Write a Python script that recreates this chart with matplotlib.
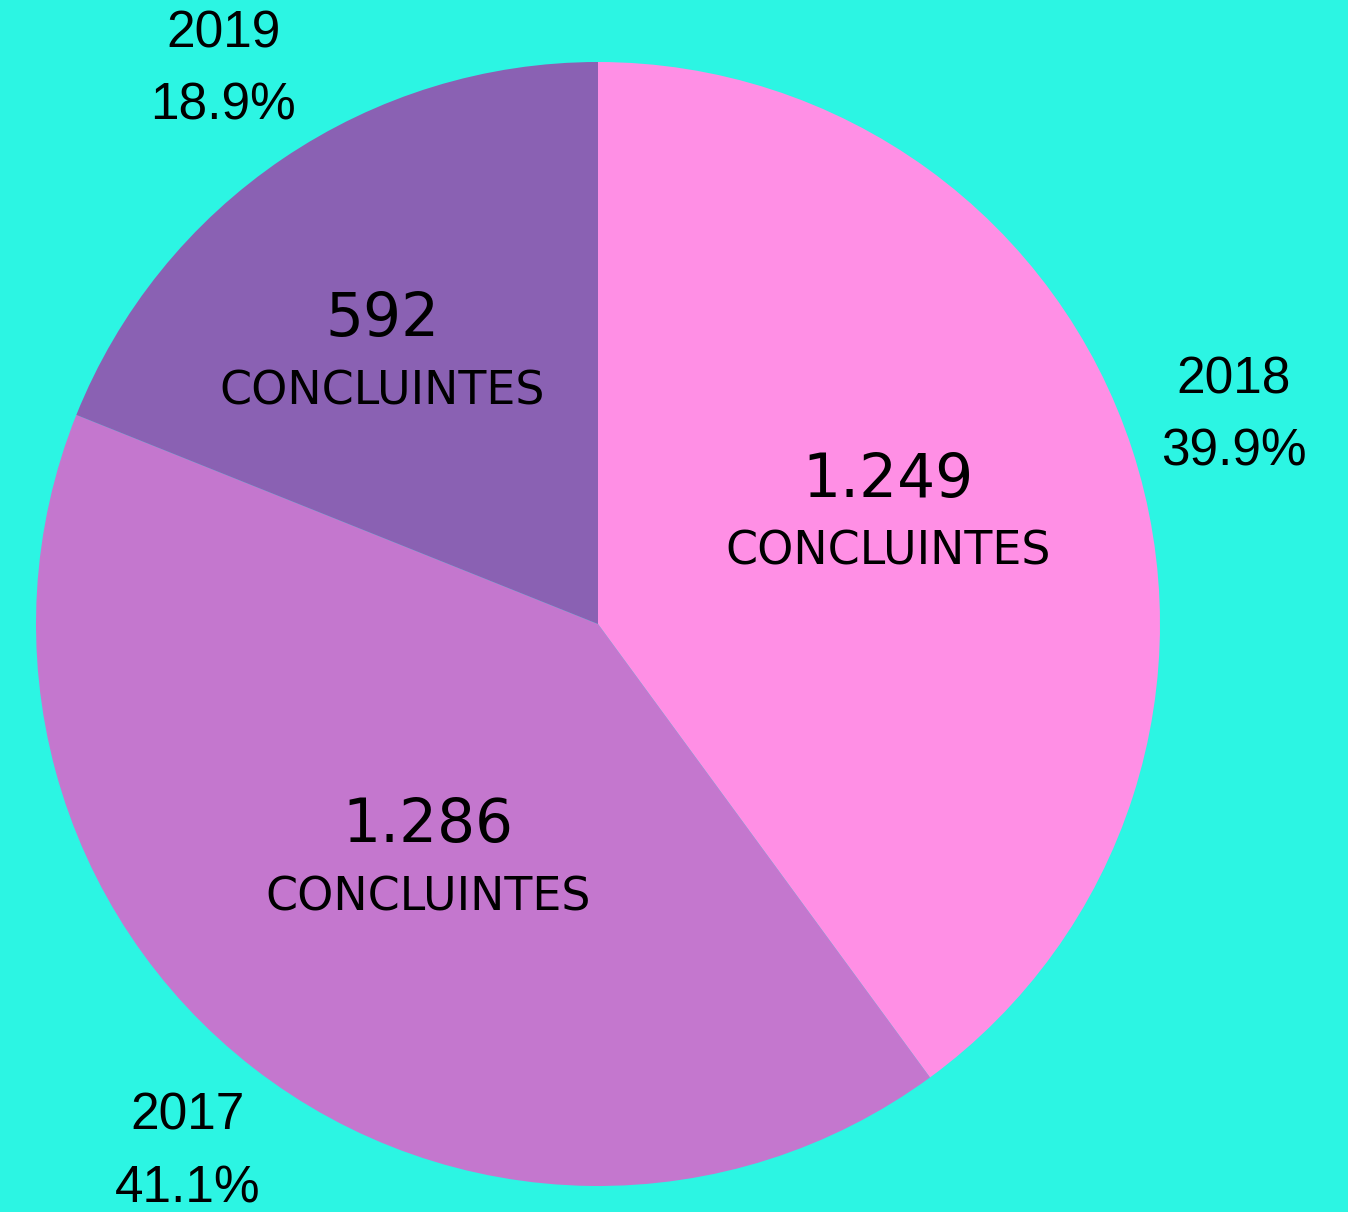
import matplotlib.pyplot as plt
import numpy as np

# data
years = ["2018", "2017", "2019"]
concluintes = [1249, 1286, 592]
concl_labels = ["1.249", "1.286", "592"]
colors = ["#FF8FE5", "#C477CE", "#8A61B3"]
bg = "#2CF5E3"

total = sum(concluintes)
outer_labels = [f"{y}\n{100 * v / total:.1f}%" for y, v in zip(years, concluintes)]

fig = plt.figure(figsize=(13.48, 12.12), dpi=100, facecolor=bg)
ax = fig.add_axes([0, 0, 1, 1])
ax.set_facecolor(bg)

# pie in pixel units so it sits where the reference has it
cx, cy, r = 598, 1212 - 624, 562
wedges, texts = ax.pie(concluintes, labels=outer_labels, colors=colors,
                       startangle=90, counterclock=False,
                       center=(cx, cy), radius=r, labeldistance=1.19,
                       wedgeprops=dict(linewidth=0),
                       textprops=dict(fontsize=37, family="Liberation Sans",
                                      color="black", linespacing=1.62))
for t in texts:
    t.set_ha("center")

# inner labels: radial distance and small angle shift for each slice
inner_dist = [0.55, 0.52, 0.613]
inner_shift = [2.3, 2.3, 4.7]
for w, d, s, num in zip(wedges, inner_dist, inner_shift, concl_labels):
    ang = np.deg2rad((w.theta1 + w.theta2) / 2 + s)
    x = cx + d * r * np.cos(ang)
    y = cy + d * r * np.sin(ang)
    ax.annotate(num, (x, y), xytext=(0, 26), textcoords="offset points",
                ha="center", va="center", fontsize=43, family="DejaVu Sans")
    ax.annotate("CONCLUINTES", (x, y), xytext=(0, -26), textcoords="offset points",
                ha="center", va="center", fontsize=33, family="DejaVu Sans")

ax.set_xlim(0, 1348)
ax.set_ylim(0, 1212)
ax.set_aspect("equal")
ax.axis("off")

fig.savefig("out.png", dpi=100, facecolor=bg)
